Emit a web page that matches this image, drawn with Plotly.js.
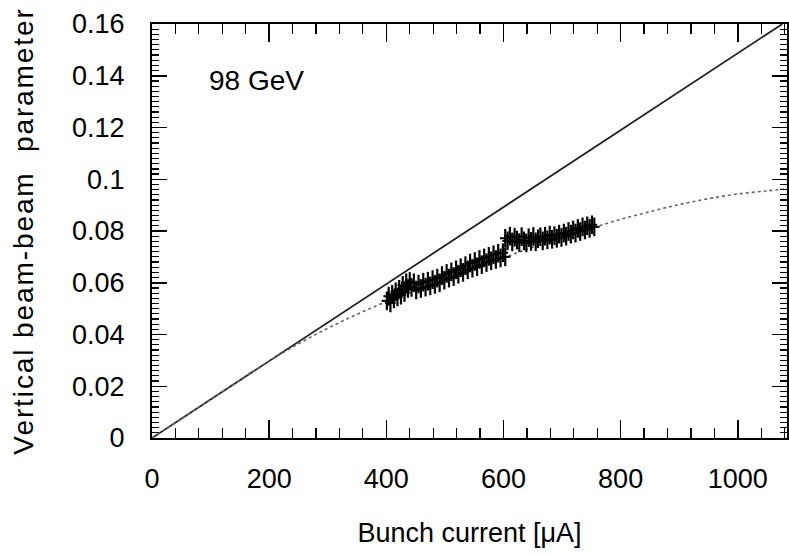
<!DOCTYPE html>
<html>
<head>
<meta charset="utf-8">
<script src="https://cdn.plot.ly/plotly-3.0.1.min.js"></script>
<style>
html,body{margin:0;padding:0;background:#fff;}
#chart{width:789px;height:556px;}
#chart .g-ytitle text{letter-spacing:1.9px;}
</style>
</head>
<body>
<div id="chart"></div>
<script>
// Linear (solid) line
const linearI = [0, 1076];
const linearXi = [0, 0.16];

// Saturating (dotted) curve
const curveI = [0, 100, 200, 250, 300, 350, 400, 450, 500, 550, 600, 650, 700, 750, 800, 850, 900, 950, 1000, 1050, 1085];
const curveXi = [0, 0.0149, 0.0297, 0.0364, 0.0424, 0.0478, 0.0527, 0.0571, 0.0613, 0.0655, 0.0697, 0.0737, 0.0775, 0.0811, 0.0845, 0.0875, 0.0902, 0.0925, 0.0943, 0.0955, 0.0963];

// Measured points
const dataI = [401,404,407,410,413,416,419,422,425,428,431,434,437,440,443,447,451,455,459,463,467,471,475,479,483,487,491,495,499,503,507,511,515,519,523,527,531,535,539,543,547,551,555,559,563,567,571,575,579,583,587,591,595,599,603,
  603,607,611,615,619,623,627,631,635,639,643,647,651,655,659,663,667,671,675,679,683,687,691,695,699,703,707,711,715,719,723,727,731,735,739,743,747,751,755];
const dataXi = [0.0530,0.0548,0.0522,0.0555,0.0538,0.0565,0.0545,0.0575,0.0552,0.0590,0.0562,0.0600,0.0578,0.0605,0.0582,0.0600,0.0572,0.0595,0.0578,0.0602,0.0583,0.0606,0.0588,0.0612,0.0594,0.0618,0.0600,0.0628,0.0610,0.0636,0.0618,0.0642,0.0624,0.0650,0.0633,0.0658,0.0640,0.0666,0.0650,0.0676,0.0656,0.0682,0.0662,0.0690,0.0670,0.0696,0.0678,0.0702,0.0685,0.0708,0.0690,0.0714,0.0696,0.0716,0.0700,
  0.0772,0.0762,0.0780,0.0758,0.0776,0.0765,0.0755,0.0778,0.0762,0.0754,0.0774,0.0760,0.0779,0.0758,0.0770,0.0778,0.0762,0.0780,0.0766,0.0784,0.0768,0.0782,0.0772,0.0788,0.0775,0.0792,0.0780,0.0798,0.0788,0.0804,0.0792,0.0810,0.0798,0.0816,0.0804,0.0820,0.0810,0.0824,0.0816];
const errI = 9;
const errXi = 0.0036;

const xTickVals = [0, 200, 400, 600, 800, 1000];
const yTickVals = [0, 0.02, 0.04, 0.06, 0.08, 0.1, 0.12, 0.14, 0.16];
const yTickText = ['0', '0.02', '0.04', '0.06', '0.08', '0.1', '0.12', '0.14', '0.16'];

const FONT = '"Liberation Sans", Arial, sans-serif';

const traces = [
  {x: linearI, y: linearXi, mode: 'lines', line: {color: '#222', width: 1.8}, hoverinfo: 'skip'},
  {x: curveI, y: curveXi, mode: 'lines', line: {color: '#666', width: 1.6, dash: 'dot', shape: 'spline'}, hoverinfo: 'skip'},
  {x: dataI, y: dataXi, mode: 'markers', marker: {size: 1, color: '#000'},
   error_x: {type: 'constant', value: errI, color: '#000', thickness: 2, width: 0},
   error_y: {type: 'constant', value: errXi, color: '#000', thickness: 2.2, width: 0}}
];

const layout = {
  width: 789, height: 556,
  margin: {l: 152, r: 2, t: 24, b: 118},
  paper_bgcolor: '#fff', plot_bgcolor: '#fff',
  showlegend: false,
  font: {family: FONT, color: '#000', size: 26},
  xaxis: {
    range: [0, 1084], showgrid: false, zeroline: false,
    showline: true, linecolor: '#000', linewidth: 2, mirror: 'ticks',
    ticks: 'inside', ticklen: 18, tickwidth: 1.5, tickcolor: '#000',
    tickvals: xTickVals, ticktext: xTickVals.map(String),
    tickfont: {family: FONT, size: 27}, ticklabelstandoff: 16,
    minor: {dtick: 40, ticks: 'inside', ticklen: 10, tickwidth: 1.2, tickcolor: '#000', showgrid: false},
    title: {text: 'Bunch current [μA]', font: {family: FONT, size: 27}, standoff: 30}
  },
  yaxis: {
    range: [0, 0.16], showgrid: false, zeroline: false,
    showline: true, linecolor: '#000', linewidth: 2, mirror: 'ticks',
    ticks: 'inside', ticklen: 15, tickwidth: 1.5, tickcolor: '#000',
    tickvals: yTickVals, ticktext: yTickText,
    tickfont: {family: FONT, size: 27}, ticklabelstandoff: 20,
    minor: {dtick: 0.002, ticks: 'inside', ticklen: 7, tickwidth: 1.2, tickcolor: '#000', showgrid: false},
    title: {text: 'Vertical beam-beam  parameter', font: {family: FONT, size: 28}, standoff: 30}
  },
  annotations: [
    {text: '98 GeV', xref: 'paper', yref: 'paper', x: (256 - 152) / 635, y: (438 - 81) / 414,
     xanchor: 'center', yanchor: 'middle', showarrow: false, font: {family: FONT, size: 28, color: '#000'}}
  ]
};

Plotly.newPlot('chart', traces, layout, {displayModeBar: false, staticPlot: true});
</script>
</body>
</html>
